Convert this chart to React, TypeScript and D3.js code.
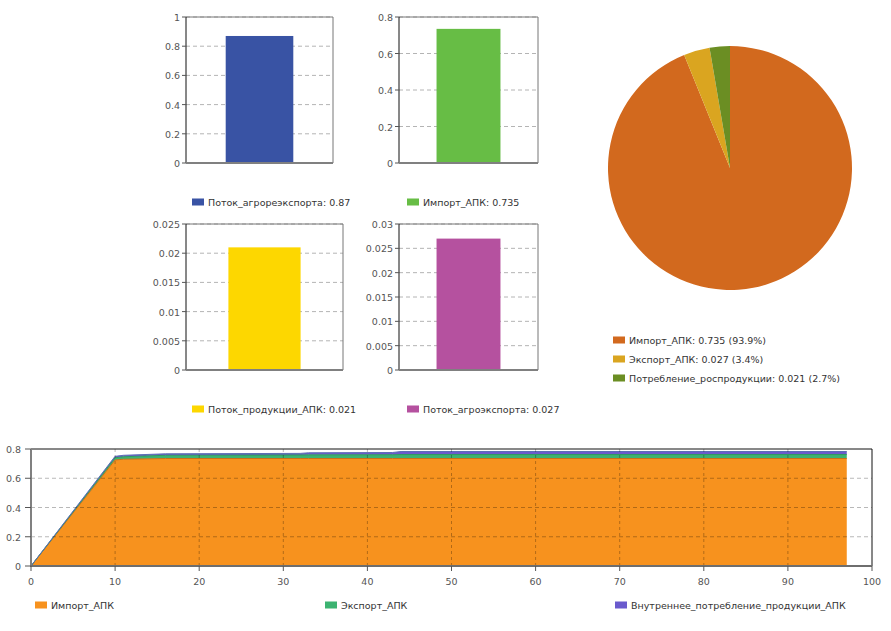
import React, { useEffect, useRef } from 'react';
import * as d3 from 'd3';

// bar panels
const barLabels = ['Поток_агрореэкспорта', 'Импорт_АПК', 'Поток_продукции_АПК', 'Поток_агроэкспорта'];
const barValues = [0.87, 0.735, 0.021, 0.027];
const barLegendValues = ['0.87', '0.735', '0.021', '0.027'];
const barMaxima = [1, 0.8, 0.025, 0.03];
const barColors = ['#3953a4', '#67bd45', '#fdd700', '#b5519f'];

// pie
const pieLabels = ['Импорт_АПК', 'Экспорт_АПК', 'Потребление_роспродукции'];
const pieValues = [0.735, 0.027, 0.021];
const pieLegendText = ['0.735 (93.9%)', '0.027 (3.4%)', '0.021 (2.7%)'];
const pieColors = ['#d2691e', '#daa520', '#6b8e23'];

// stacked area
const areaX = [0, 10, 11, 16, 32, 33, 43, 44, 97];
const importValues = [0, 0.725, 0.73, 0.735, 0.735, 0.735, 0.735, 0.735, 0.735];
const exportValues = [0, 0.015, 0.017, 0.022, 0.024, 0.025, 0.026, 0.027, 0.027];
const consumptionValues = [0, 0.01, 0.01, 0.01, 0.011, 0.014, 0.015, 0.021, 0.021];
const areaSeries = ['Импорт_АПК', 'Экспорт_АПК', 'Внутреннее_потребление_продукции_АПК'];
const areaColors = ['#f7921e', '#3cb371', '#6a5acd'];
const areaStrokes = ['#c8701a', '#2e9a5e', '#5b6fb5'];

const FONT = '"DejaVu Sans", Verdana, sans-serif';
const FS = 9.5;

// frame boxes for the four bar panels
const panels = [
  { x0: 186, x1: 333, y0: 17, y1: 163, legendX: 192, legendY: 202 },
  { x0: 399, x1: 538, y0: 17, y1: 163, legendX: 407, legendY: 202 },
  { x0: 186, x1: 343, y0: 224, y1: 370, legendX: 192, legendY: 409 },
  { x0: 399, x1: 538, y0: 224, y1: 370, legendX: 407, legendY: 409 },
];

const fmt = (d: number) => String(+d.toFixed(4));

const App: React.FC = () => {
  const svgRef = useRef<SVGSVGElement>(null);

  useEffect(() => {
    if (!svgRef.current) return;
    const svg = d3.select(svgRef.current);
    svg.selectAll('*').remove();

    const legendItem = (x: number, y: number, color: string, text: string) => {
      svg.append('rect').attr('x', x).attr('y', y - 3.5).attr('width', 12).attr('height', 7).attr('fill', color);
      svg.append('text').attr('x', x + 16).attr('y', y + 3.5)
        .attr('font-family', FONT).attr('font-size', FS).attr('fill', '#333').text(text);
    };

    // ---- bar panels
    panels.forEach((p, i) => {
      const g = svg.append('g');
      const y = d3.scaleLinear().domain([0, barMaxima[i]]).range([p.y1, p.y0]);
      const x = d3.scaleBand().domain([barLabels[i]]).range([p.x0, p.x1]).padding(0.37);
      const ticks = y.ticks(5);

      g.selectAll('.grid').data(ticks.filter(t => t > 0)).enter().append('line')
        .attr('x1', p.x0).attr('x2', p.x1)
        .attr('y1', d => y(d)).attr('y2', d => y(d))
        .attr('stroke', '#b4b4b4').attr('stroke-dasharray', '4,3');

      g.append('rect')
        .attr('x', x(barLabels[i]) || 0).attr('width', x.bandwidth())
        .attr('y', y(barValues[i])).attr('height', p.y1 - y(barValues[i]))
        .attr('fill', barColors[i]);

      // frame
      g.append('line').attr('x1', p.x0).attr('x2', p.x1).attr('y1', p.y0).attr('y2', p.y0).attr('stroke', '#777');
      g.append('line').attr('x1', p.x1).attr('x2', p.x1).attr('y1', p.y0).attr('y2', p.y1).attr('stroke', '#777');
      g.append('line').attr('x1', p.x0).attr('x2', p.x0).attr('y1', p.y0).attr('y2', p.y1).attr('stroke', '#111');
      g.append('line').attr('x1', p.x0).attr('x2', p.x1).attr('y1', p.y1).attr('y2', p.y1)
        .attr('stroke', '#808080').attr('stroke-width', 2);

      g.selectAll('.tick').data(ticks).enter().append('line')
        .attr('x1', p.x0 - 4).attr('x2', p.x0).attr('y1', d => y(d)).attr('y2', d => y(d)).attr('stroke', '#555');
      g.selectAll('.lbl').data(ticks).enter().append('text')
        .attr('x', p.x0 - 6).attr('y', d => y(d) + 4).attr('text-anchor', 'end')
        .attr('font-family', FONT).attr('font-size', FS).attr('fill', '#555').text(d => fmt(d));

      legendItem(p.legendX, p.legendY, barColors[i], `${barLabels[i]}: ${barLegendValues[i]}`);
    });

    // ---- pie
    const pie = d3.pie<number>().sort(null).value(d => d);
    const arc = d3.arc<d3.PieArcDatum<number>>().innerRadius(0).outerRadius(122);
    svg.append('g').attr('transform', 'translate(730,168)')
      .selectAll('path').data(pie(pieValues)).enter().append('path')
      .attr('d', arc).attr('fill', (_, i) => pieColors[i]);
    pieLabels.forEach((l, i) => legendItem(613, 340 + i * 19, pieColors[i], `${l}: ${pieLegendText[i]}`));

    // ---- stacked area
    const ax = d3.scaleLinear().domain([0, 100]).range([31, 872]);
    const ay = d3.scaleLinear().domain([0, 0.8]).range([566, 449]);
    const rows = areaX.map((x, i) => ({ x, a: importValues[i], b: exportValues[i], c: consumptionValues[i] }));
    const stack = d3.stack<any>().keys(['a', 'b', 'c'])(rows);
    const area = d3.area<any>().x(d => ax(d.data.x)).y0(d => ay(d[0])).y1(d => ay(d[1]));
    const topLine = d3.line<any>().x(d => ax(d.data.x)).y(d => ay(d[1]));
    const ag = svg.append('g');
    stack.forEach((s, i) => {
      ag.append('path').attr('d', area(s) || '').attr('fill', areaColors[i]);
    });
    stack.forEach((s, i) => {
      ag.append('path').attr('d', topLine(s) || '').attr('fill', 'none').attr('stroke', areaStrokes[i]).attr('stroke-width', 1);
    });

    const xt = ax.ticks(10);
    const yt = ay.ticks(5);
    ag.selectAll('.vg').data(xt.filter(t => t > 0 && t < 100)).enter().append('line')
      .attr('x1', d => ax(d)).attr('x2', d => ax(d)).attr('y1', 449).attr('y2', 566)
      .attr('stroke', '#000').attr('stroke-opacity', 0.28).attr('stroke-dasharray', '3,3');
    ag.selectAll('.hg').data(yt.filter(t => t > 0 && t < 0.8)).enter().append('line')
      .attr('x1', 31).attr('x2', 872).attr('y1', d => ay(d)).attr('y2', d => ay(d))
      .attr('stroke', '#000').attr('stroke-opacity', 0.28).attr('stroke-dasharray', '4,3');

    ag.append('line').attr('x1', 31).attr('x2', 872).attr('y1', 449).attr('y2', 449).attr('stroke', '#111');
    ag.append('line').attr('x1', 872).attr('x2', 872).attr('y1', 449).attr('y2', 566).attr('stroke', '#111');
    ag.append('line').attr('x1', 31).attr('x2', 31).attr('y1', 449).attr('y2', 567).attr('stroke', '#808080').attr('stroke-width', 2);
    ag.append('line').attr('x1', 31).attr('x2', 872).attr('y1', 566).attr('y2', 566).attr('stroke', '#6e6e6e').attr('stroke-width', 2);

    ag.selectAll('.yt').data(yt).enter().append('line')
      .attr('x1', 25).attr('x2', 31).attr('y1', d => ay(d)).attr('y2', d => ay(d)).attr('stroke', '#555');
    ag.selectAll('.yl').data(yt).enter().append('text')
      .attr('x', 21).attr('y', d => ay(d) + 4).attr('text-anchor', 'end')
      .attr('font-family', FONT).attr('font-size', FS).attr('fill', '#555').text(d => fmt(d));
    ag.selectAll('.xt').data(xt).enter().append('line')
      .attr('x1', d => ax(d)).attr('x2', d => ax(d)).attr('y1', 566).attr('y2', 571).attr('stroke', '#555');
    ag.selectAll('.xl').data(xt).enter().append('text')
      .attr('x', d => ax(d)).attr('y', 585).attr('text-anchor', 'middle')
      .attr('font-family', FONT).attr('font-size', FS).attr('fill', '#555').text(d => fmt(d));

    const areaLegendX = [35, 325, 615];
    areaSeries.forEach((s, i) => legendItem(areaLegendX[i], 605, areaColors[i], s));
  }, []);

  return (
    <svg ref={svgRef} width={891} height={631}
      style={{ position: 'absolute', left: 0, top: 0, background: '#fff' }} />
  );
};

export default App;
